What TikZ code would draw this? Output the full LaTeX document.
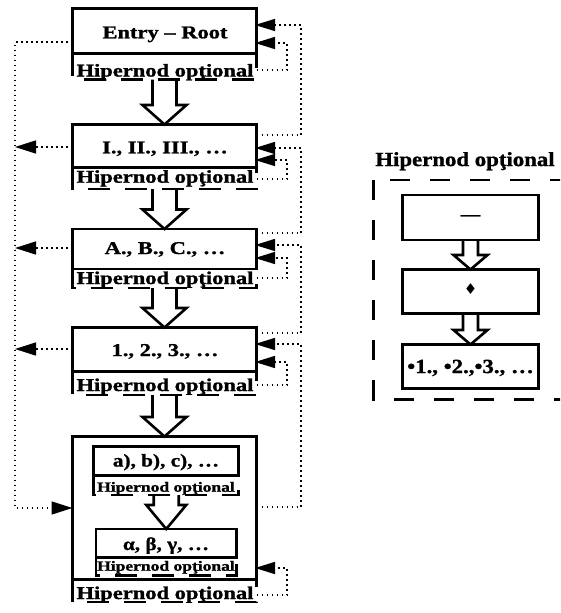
\documentclass[tikz,border=0pt]{standalone}
\usepackage{fontspec}
\setmainfont{Liberation Serif}[FakeStretch=1.25,FakeBold=1.2]
\newfontfamily\rfont{Liberation Serif}[FakeStretch=1.14,FakeBold=1.2]
\newfontfamily\ifont{Liberation Serif}[FakeStretch=1.18,FakeBold=1.2]
\newfontfamily\symfont{DejaVu Sans}
\usetikzlibrary{arrows.meta,calc}
\tikzset{
  box/.style={draw, line width=2.8pt, inner sep=0pt, outer sep=0pt, minimum width=184pt},
  txt/.style={anchor=base, inner sep=0pt, font=\fontsize{18}{20}\selectfont\bfseries},
  stxt/.style={anchor=base, inner sep=0pt, font=\fontsize{14}{16}\selectfont\bfseries},
  itxt/.style={anchor=base, inner sep=0pt, font=\ifont\fontsize{18}{20}\selectfont\bfseries},
  rtxt/.style={anchor=base, inner sep=0pt, font=\rfont\fontsize{20}{22}\selectfont\bfseries},
  hdash/.style={line width=2.8pt, dash pattern=on 22pt off 15pt},
  rdash/.style={line width=2.8pt, dash pattern=on 20pt off 20pt},
  conn/.style={line width=1.5pt, dash pattern=on 1.5pt off 3.5pt},
  tip/.style={-{Triangle[length=20pt,width=12pt]}, shorten >=-1.5pt},
  tipl/.style={-{Triangle[length=21pt,width=13pt]}},
  hol/.style={line width=2.6pt, line join=miter, miter limit=10},
}
\newcommand\hollowarr[5]{%
  \draw[hol] let \p1=(#1), \p2=(#2) in
    (\x2-#3,\y1) -- (\x2-#3,\y2+#5) -- (\x2-#4,\y2+#5) -- (\x2,\y2)
    -- (\x2+#4,\y2+#5) -- (\x2+#3,\y2+#5) -- (\x2+#3,\y1);}
\begin{document}
\begin{tikzpicture}[x=1pt,y=-1pt]
\useasboundingbox (0,0) rectangle (560,613);
\fill[white] (0,0) rectangle (560,613);
\clip (0,0) rectangle (560,613);

% main column boxes
\node[box, minimum height=45pt] (b0) at (164.5,31) {};
\node[box, minimum height=43pt] (b1) at (164.5,146) {};
\node[box, minimum height=40pt] (b2) at (164.5,249) {};
\node[box, minimum height=44pt] (b3) at (164.5,349.5) {};
\node[box, minimum height=143pt] (b4) at (164.5,508) {};
\node[box, minimum width=145pt, minimum height=29pt] (ia) at (166,461) {};
\node[box, minimum width=140.5pt, minimum height=28.5pt] (ib) at (166.25,543.25) {};

% hipernod bottoms
\coordinate (h0b) at ($(b0.south)+(0,26)$);
\coordinate (h1b) at ($(b1.south)+(0,21.5)$);
\coordinate (h2b) at ($(b2.south)+(0,19)$);
\coordinate (h3b) at ($(b3.south)+(0,23.5)$);
\coordinate (h4b) at ($(b4.south)+(0,22.5)$);
\coordinate (hab) at ($(ia.south)+(0,19.5)$);
\coordinate (hbb) at ($(ib.south)+(0,18)$);

\foreach \b/\h in {b0/h0b,b1/h1b,b2/h2b,b3/h3b,b4/h4b,ia/hab,ib/hbb}{
  \draw[hdash] (\b.south west) -- (\h -| \b.south west) -- (\h -| \b.south east) -- (\b.south east);
}

% texts
\node[txt] (e0) at (165,38.3) {Entry – Root};
\node[txt] (e1) at (165,153.3) {I., II., III., …};
\node[txt] (e2) at (165,254) {A., B., C., …};
\node[txt] (e3) at (165,356) {1., 2., 3., …};
\node[itxt] (ea) at (166,466.5) {a), b), c), …};
\node[itxt] (eb) at (166,550) {α, β, γ, …};
\node[txt] (t0) at (165,76.5) {Hipernod opţional};
\node[txt] (t1) at (165,182.7) {Hipernod opţional};
\node[txt] (t2) at (165,284) {Hipernod opţional};
\node[txt] (t3) at (165,391) {Hipernod opţional};
\node[txt] (t4) at (165,599) {Hipernod opţional};
\node[stxt] (ta) at (166,491.7) {Hipernod opţional};
\node[stxt] (tb) at (166,570.7) {Hipernod opţional};

% hollow arrows
\hollowarr{h0b}{b1.north}{12pt}{22pt}{19.5pt}
\hollowarr{h1b}{b2.north}{12pt}{22pt}{19.5pt}
\hollowarr{h2b}{b3.north}{12pt}{22pt}{19.5pt}
\hollowarr{h3b}{b4.north}{12pt}{22pt}{19.5pt}
\hollowarr{hab}{ib.north}{12.5pt}{20pt}{24pt}

% left dotted connectors
\draw[conn,tipl] (b0.west |- 0,42) -- (15,42) -- (15,508) -- (b4.west |- 0,508);
\draw[conn,tipl] (b1.west |- 0,147) -- (15,147);
\draw[conn,tipl] (b2.west |- 0,248) -- (15,248);
\draw[conn,tipl] (b3.west |- 0,349) -- (15,349);

% right dotted connectors
\draw[conn,tip] (b1.east |- 0,135) -- (301,135) -- (301,25) -- (b0.east |- 0,25);
\draw[conn,tip] (b0.east |- 0,70) -- (287,70) -- (287,43) -- (b0.east |- 0,43);
\draw[conn,tip] (b2.east |- 0,233) -- (301,233) -- (301,148) -- (b1.east |- 0,148);
\draw[conn,tip] (b1.east |- 0,179) -- (287,179) -- (287,160) -- (b1.east |- 0,160);
\draw[conn,tip] (b3.east |- 0,333) -- (301,333) -- (301,245) -- (b2.east |- 0,245);
\draw[conn,tip] (b2.east |- 0,278) -- (287,278) -- (287,258) -- (b2.east |- 0,258);
\draw[conn,tip] (b4.east |- 0,507) -- (301,507) -- (301,344) -- (b3.east |- 0,344);
\draw[conn,tip] (b3.east |- 0,385) -- (287,385) -- (287,362) -- (b3.east |- 0,362);
\draw[conn,tip] (b4.east |- 0,595) -- (287,595) -- (287,568) -- (b4.east |- 0,568);

% right panel
\node[rtxt] (rl) at (465,166) {Hipernod opţional};
\draw[rdash, dash phase=23.5pt] (373.5,180) -- (580,180);
\draw[rdash] (373.5,180) -- (373.5,399.5) -- (580,399.5);
\node[box, minimum width=136pt, minimum height=45pt] (r1) at (470.5,217.5) {};
\node[box, minimum width=136pt, minimum height=44pt] (r2) at (470.5,291.5) {};
\node[box, minimum width=136pt, minimum height=44pt] (r3) at (470.5,366.5) {};
\node[inner sep=0pt, font=\rfont\fontsize{17}{17}\selectfont\bfseries] (d1) at (r1.center) {—};
\node[inner sep=0pt, font=\symfont\fontsize{15}{15}\selectfont] (d2) at (470.5,289) {♦};
\node[rtxt] (d3) at (470.5,373) {•1., •2.,•3., …};
\hollowarr{r1.south}{r2.north}{7.5pt}{17pt}{14.5pt}
\hollowarr{r2.south}{r3.north}{7.5pt}{17pt}{14.5pt}
\end{tikzpicture}
\end{document}
